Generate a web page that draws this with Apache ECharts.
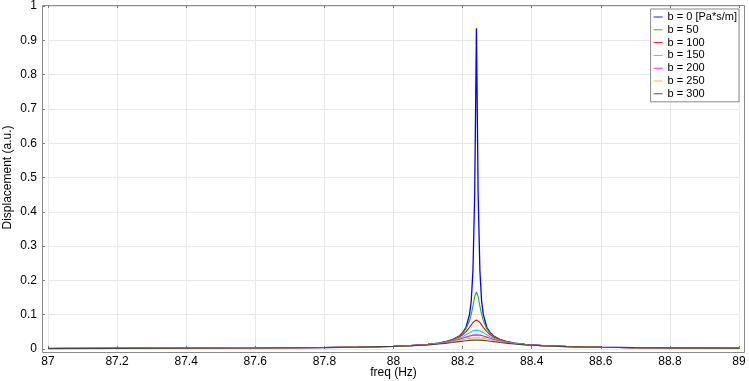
<!DOCTYPE html>
<html>
<head>
<meta charset="utf-8">
<script src="https://cdn.jsdelivr.net/npm/echarts@6/dist/echarts.min.js"></script>
<style>html,body{margin:0;padding:0;background:#fff}#c{width:749px;height:381px}</style>
</head>
<body>
<div id="c"></div>
<script>
const freq = [87, 87.2, 87.4, 87.6, 87.8, 87.9, 88, 88.05, 88.1, 88.13, 88.15, 88.17, 88.19, 88.2, 88.21, 88.22, 88.225, 88.23, 88.235, 88.24,
  88.245, 88.25, 88.255, 88.26, 88.27, 88.28, 88.29, 88.31, 88.33, 88.35, 88.38, 88.43, 88.5, 88.6, 88.7, 88.8, 89];
const seriesNames = ['b = 0 [Pa*s/m]', 'b = 50', 'b = 100', 'b = 150', 'b = 200', 'b = 250', 'b = 300'];
const b0 = [0.0015,0.0018,0.0023,0.003,0.0043,0.0056,0.0079,0.0100,0.0136,0.0173,0.0211,0.0271,0.038,0.0475,0.0633,0.10,0.14,0.23,0.45,0.935,
  0.45,0.23,0.14,0.10,0.0633,0.0475,0.038,0.0271,0.0211,0.0173,0.0136,0.0100,0.0073,0.0053,0.0041,0.0034,0.0025];
const b50 = [0.0015,0.0018,0.0023,0.003,0.0043,0.0056,0.0079,0.0100,0.0135,0.0172,0.0209,0.0268,0.0371,0.0457,0.0592,0.0825,0.1008,0.1253,0.1526,0.1667,
  0.1526,0.1253,0.1008,0.0825,0.0592,0.0457,0.0371,0.0268,0.0209,0.0172,0.0135,0.0100,0.0073,0.0053,0.0041,0.0034,0.0025];
const b100 = [0.0015,0.0018,0.0023,0.003,0.0043,0.0056,0.0079,0.0099,0.0134,0.0169,0.0205,0.0259,0.0347,0.0414,0.0507,0.0633,0.0705,0.0774,0.0828,0.0848,
  0.0828,0.0774,0.0705,0.0633,0.0507,0.0414,0.0347,0.0259,0.0205,0.0169,0.0134,0.0099,0.0073,0.0053,0.0041,0.0034,0.0025];
const b150 = [0.0015,0.0018,0.0023,0.003,0.0043,0.0056,0.0078,0.0098,0.0132,0.0165,0.0197,0.0243,0.0313,0.0360,0.0416,0.0477,0.0505,0.0529,0.0545,0.0551,
  0.0545,0.0529,0.0505,0.0477,0.0416,0.0360,0.0313,0.0243,0.0197,0.0165,0.0132,0.0098,0.0072,0.0053,0.0041,0.0034,0.0025];
const b200 = [0.0015,0.0018,0.0023,0.003,0.0043,0.0055,0.0078,0.0097,0.0129,0.0159,0.0188,0.0227,0.0280,0.0312,0.0346,0.0379,0.0393,0.0404,0.0411,0.0413,
  0.0411,0.0404,0.0393,0.0379,0.0346,0.0312,0.0280,0.0227,0.0188,0.0159,0.0129,0.0097,0.0072,0.0052,0.0041,0.0034,0.0025];
const b250 = [0.0015,0.0018,0.0023,0.003,0.0043,0.0055,0.0077,0.0096,0.0125,0.0153,0.0177,0.0209,0.0248,0.0270,0.0291,0.0310,0.0317,0.0323,0.0326,0.0328,
  0.0326,0.0323,0.0317,0.0310,0.0291,0.0270,0.0248,0.0209,0.0177,0.0153,0.0125,0.0096,0.0071,0.0052,0.0041,0.0034,0.0025];
const b300 = [0.0015,0.0018,0.0023,0.003,0.0043,0.0055,0.0076,0.0093,0.0120,0.0144,0.0164,0.0188,0.0215,0.0228,0.0241,0.0251,0.0255,0.0258,0.0260,0.0260,
  0.0260,0.0258,0.0255,0.0251,0.0241,0.0228,0.0215,0.0188,0.0164,0.0144,0.0120,0.0093,0.0070,0.0052,0.0040,0.0034,0.0025];
const allValues = [b0, b50, b100, b150, b200, b250, b300];
const colors = ['#0000ff', '#22aa22', '#ff0000', '#00dede', '#ff00ff', '#f2c200', '#444444'];

const chart = echarts.init(document.getElementById('c'), null, {renderer: 'canvas'});
const font = 'Liberation Sans, Arial, Helvetica, sans-serif';
const series = allValues.map((vals, i) => ({
  name: seriesNames[i],
  type: 'line',
  symbol: 'none',
  animation: false,
  data: freq.map((f, k) => [f, vals[k]]),
  lineStyle: {width: i === 0 ? 1.3 : 1.1, color: colors[i]},
  itemStyle: {color: colors[i]},
  z: 2 + i
}));
chart.setOption({
  animation: false,
  backgroundColor: '#ffffff',
  textStyle: {fontFamily: font},
  grid: {left: 48, right: 10, top: 6, bottom: 32, containLabel: false, outerBoundsMode: 'none'},
  graphic: [{
    type: 'rect', z: 100, silent: true,
    shape: {x: 42.5, y: 5.5, width: 702, height: 347},
    style: {fill: 'none', stroke: '#8a8a8a', lineWidth: 1}
  }],
  legend: {
    right: 10, top: 9, orient: 'vertical',
    itemWidth: 9, itemHeight: 12, itemGap: 0.8,
    icon: 'path://M0,0H20V2H0Z',
    padding: [2, 2, 2, 3],
    borderColor: '#8a8a8a', borderWidth: 1, backgroundColor: '#ffffff',
    textStyle: {fontFamily: font, fontSize: 11, color: '#000', lineHeight: 12},
    data: seriesNames,
    z: 120
  },
  xAxis: [{
    type: 'value', min: 87, max: 89, interval: 0.2, offset: 4,
    name: 'freq (Hz)', nameLocation: 'middle', nameGap: 14, nameMoveOverlap: false,
    nameTextStyle: {fontFamily: font, fontSize: 12, color: '#000'},
    axisLine: {show: false},
    axisTick: {show: true, inside: true, length: 3, lineStyle: {color: '#777'}},
    axisLabel: {fontFamily: font, fontSize: 12, color: '#000', margin: 3},
    splitLine: {show: true, lineStyle: {color: '#e8e8e8', width: 1}}
  }, {
    type: 'value', position: 'top', min: 87, max: 89, interval: 0.2, offset: 1,
    axisLine: {show: false},
    axisTick: {show: true, inside: true, length: 3, lineStyle: {color: '#777'}},
    axisLabel: {show: false},
    splitLine: {show: false}
  }],
  yAxis: {
    type: 'value', min: 0, max: 1, interval: 0.1, offset: 6,
    name: 'Displacement (a.u.)', nameLocation: 'middle', nameGap: 28, nameMoveOverlap: false,
    nameTextStyle: {fontFamily: font, fontSize: 12, color: '#000'},
    axisLine: {show: false},
    axisTick: {show: true, inside: true, length: 3, lineStyle: {color: '#777'}},
    axisLabel: {fontFamily: font, fontSize: 12, color: '#000', margin: 5},
    splitLine: {show: true, lineStyle: {color: '#e8e8e8', width: 1}}
  },
  series: series
});
</script>
</body>
</html>
